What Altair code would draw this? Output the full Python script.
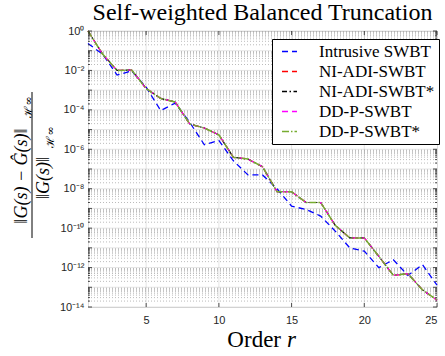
import json
import altair as alt
import pandas as pd

# Model order r
orders = list(range(1, 26))

# Relative H-infinity error for each reduction method
intrusive_swbt = [2.3e-1, 6.8e-2, 5.8e-3, 9.5e-3, 1.4e-3, 9.3e-5, 2.2e-4, 2.3e-5, 1.7e-6, 2.8e-6,
                  2.6e-7, 5.0e-8, 5.0e-8, 1.0e-8, 1.3e-9, 8.9e-10, 4.1e-10, 7.1e-11, 1.0e-11, 6.8e-12,
                  1.0e-12, 2.5e-12, 4.0e-13, 1.4e-12, 1.3e-13]
ni_adi_swbt = [1.0, 6.8e-2, 1.0e-2, 1.05e-2, 1.2e-3, 3.8e-4, 2.5e-4, 1.9e-5, 1.2e-5, 5.4e-6,
               3.9e-7, 3.2e-7, 1.3e-7, 7.1e-9, 7.0e-9, 2.0e-9, 2.0e-9, 1.4e-10, 3.2e-11, 3.2e-11,
               3.7e-12, 4.0e-13, 4.9e-13, 7.4e-14, 2.2e-14]
ni_adi_swbt_star = [1.0, 6.8e-2, 1.0e-2, 1.05e-2, 1.2e-3, 3.8e-4, 2.5e-4, 1.9e-5, 1.2e-5, 5.4e-6,
                    3.9e-7, 3.2e-7, 1.3e-7, 7.1e-9, 7.0e-9, 2.0e-9, 2.0e-9, 1.4e-10, 3.2e-11, 3.2e-11,
                    3.7e-12, 4.0e-13, 4.9e-13, 7.4e-14, 2.3e-14]
dd_p_swbt = [1.0, 6.8e-2, 1.0e-2, 1.05e-2, 1.2e-3, 3.8e-4, 2.5e-4, 1.9e-5, 1.2e-5, 5.4e-6,
             3.9e-7, 3.2e-7, 1.3e-7, 7.1e-9, 7.0e-9, 2.0e-9, 2.0e-9, 1.4e-10, 3.2e-11, 3.2e-11,
             3.7e-12, 4.0e-13, 4.9e-13, 7.4e-14, 2.2e-14]
dd_p_swbt_star = [1.0, 6.8e-2, 1.0e-2, 1.05e-2, 1.2e-3, 3.8e-4, 2.5e-4, 1.9e-5, 1.2e-5, 5.4e-6,
                  3.9e-7, 3.2e-7, 1.3e-7, 7.1e-9, 7.0e-9, 2.0e-9, 2.0e-9, 1.4e-10, 3.2e-11, 3.2e-11,
                  3.7e-12, 4.0e-13, 4.9e-13, 7.4e-14, 2.3e-14]

series_names = ["Intrusive SWBT", "NI-ADI-SWBT", "NI-ADI-SWBT*", "DD-P-SWBT", "DD-P-SWBT*"]
series_values = [intrusive_swbt, ni_adi_swbt, ni_adi_swbt_star, dd_p_swbt, dd_p_swbt_star]
series_colors = ["#0000ff", "#ff0000", "#000000", "#ff00ff", "#77ac30"]
series_dashes = [[6, 4], [6, 4], [5, 2.5, 1.5, 2.5], [6, 4], [7, 2, 1.5, 2]]
series_widths = [1.3, 1.2, 1.2, 1.2, 1.5]

# Axis ticks
x_tick_values = [5, 10, 15, 20, 25]
x_grid_values = [5, 10, 15, 20]
y_label_exponents = [0, -2, -4, -6, -8, -10, -12, -14]
y_decade_exponents = list(range(0, -15, -1))
minor_multipliers = [2, 3, 4, 5, 6, 7, 8, 9]

W, H = 349, 276
SERIF = "Liberation Serif"
SANS = "Liberation Sans"

rows = []
for name, vals in zip(series_names, series_values):
    for r, v in zip(orders, vals):
        rows.append({"order": r, "error": v, "method": name})
df = pd.DataFrame(rows)

decades = [10.0 ** e for e in y_decade_exponents]
minors = [m * 10.0 ** e for e in y_decade_exponents[1:] for m in minor_multipliers]

sup = str.maketrans("0123456789-", "⁰¹²³⁴⁵⁶⁷⁸⁹⁻")
y_labels = ["10" + str(e).translate(sup) for e in y_label_exponents]
y_label_expr = json.dumps(y_labels, ensure_ascii=False) + "[-round(log(datum.value)/LN10)/2]"

xscale = alt.Scale(domain=[1, 25], nice=False, zero=False)
yscale = alt.Scale(type="log", domain=[1e-14, 1], nice=False)

x_axis = alt.Axis(values=x_tick_values, ticks=False, domain=False, grid=False,
                  labelFont=SANS, labelFontSize=11, labelColor="#262626",
                  labelPadding=7, title=None)
y_axis = alt.Axis(values=[10.0 ** e for e in y_label_exponents], labelExpr=y_label_expr,
                  ticks=False, domain=False, grid=False,
                  labelFont=SANS, labelFontSize=11, labelColor="#262626",
                  labelPadding=4, title=None)


def X(field):
    return alt.X(field, scale=xscale, axis=x_axis)


def Y(field):
    return alt.Y(field, scale=yscale, axis=y_axis)


dec_df = pd.DataFrame({"v": decades})
min_df = pd.DataFrame({"v": minors})
xg_df = pd.DataFrame({"x": x_grid_values})
xt_df = pd.DataFrame({"x": x_tick_values})

# log grid: dotted minor lines, faint solid decade lines
minor_grid = alt.Chart(min_df).mark_rule(stroke="#1a1a1a", strokeOpacity=0.5, strokeWidth=0.6,
                                         strokeDash=[1, 2]).encode(y=Y("v:Q"))
major_grid = alt.Chart(dec_df).mark_rule(stroke="#262626", strokeOpacity=0.15, strokeWidth=0.8).encode(
    y=Y("v:Q"))
x_grid = alt.Chart(xg_df).mark_rule(stroke="#262626", strokeOpacity=0.15, strokeWidth=0.8).encode(
    x=X("x:Q"))

color = alt.Color("method:N", scale=alt.Scale(domain=series_names, range=series_colors),
                  legend=alt.Legend(title=None, orient="none", legendX=184, legendY=8,
                                    symbolType="M-0.5,0L2.5,0", symbolSize=100,
                                    symbolStrokeWidth=1.3, symbolFillColor="transparent",
                                    labelFont=SERIF, labelFontSize=17, labelColor="#000000",
                                    labelOffset=26, rowPadding=2, padding=4,
                                    strokeColor="#000000", fillColor="#ffffff"))
dash = alt.StrokeDash("method:N", scale=alt.Scale(domain=series_names, range=series_dashes),
                      legend=None)

line_layers = []
for name, sw in zip(series_names, series_widths):
    line_layers.append(
        alt.Chart(df).transform_filter(alt.datum.method == name).mark_line(strokeWidth=sw).encode(
            x=X("order:Q"), y=Y("error:Q"), color=color, strokeDash=dash,
        )
    )

# inward ticks on all four sides
tick_style = dict(stroke="#262626", strokeWidth=0.8)
x_ticks_bottom = alt.Chart(xt_df).mark_rule(**tick_style).encode(
    x=X("x:Q"), y=alt.value(H), y2=alt.value(H - 4))
x_ticks_top = alt.Chart(xt_df).mark_rule(**tick_style).encode(
    x=X("x:Q"), y=alt.value(0), y2=alt.value(4))
y_ticks_left = alt.Chart(dec_df).mark_rule(**tick_style).encode(
    y=Y("v:Q"), x=alt.value(0), x2=alt.value(4))
y_ticks_right = alt.Chart(dec_df).mark_rule(**tick_style).encode(
    y=Y("v:Q"), x=alt.value(W), x2=alt.value(W - 4))
y_mticks_left = alt.Chart(min_df).mark_rule(**tick_style).encode(
    y=Y("v:Q"), x=alt.value(0), x2=alt.value(2))
y_mticks_right = alt.Chart(min_df).mark_rule(**tick_style).encode(
    y=Y("v:Q"), x=alt.value(W), x2=alt.value(W - 2))

one = alt.Data(values=[{}])


def label(text, x, y, **kw):
    return alt.Chart(one).mark_text(text=text, **kw).encode(x=alt.value(x), y=alt.value(y))


# y-axis title: ratio of H-infinity norms
frac_bar = alt.Chart(one).mark_rule(stroke="#000000", strokeWidth=1).encode(
    x=alt.value(-56), y=alt.value(61), y2=alt.value(207))
rot = dict(angle=270, align="center", baseline="middle", color="#000000")
num_main = label("‖G(s) − Ĝ(s)‖", -66, 145, fontSize=18, font=SERIF, fontStyle="italic", **rot)
num_sub = label("ℋ∞", -59, 76, fontSize=11, font="DejaVu Serif", **rot)
den_main = label("‖G(s)‖", -44, 147, fontSize=18, font=SERIF, fontStyle="italic", **rot)
den_sub = label("ℋ∞", -37, 106, fontSize=11, font="DejaVu Serif", **rot)

# x-axis title
xt_main = label("Order", 193, 309, align="right", baseline="middle",
                font=SERIF, fontSize=23, color="#000000")
xt_var = label("r", 199, 309, align="left", baseline="middle",
               font=SERIF, fontStyle="italic", fontSize=23, color="#000000")

chart = alt.layer(
    minor_grid, major_grid, x_grid,
    *line_layers,
    x_ticks_bottom, x_ticks_top, y_ticks_left, y_ticks_right, y_mticks_left, y_mticks_right,
    frac_bar, num_main, num_sub, den_main, den_sub, xt_main, xt_var,
).properties(
    width=W, height=H,
    title=alt.TitleParams("Self-weighted Balanced Truncation", font=SERIF, fontSize=24,
                          fontWeight="normal", color="#000000", anchor="middle", offset=0),
    autosize=alt.AutoSizeParams(type="none"),
    padding={"left": 88, "top": 31, "right": 8, "bottom": 49},
).configure_view(
    stroke="#262626", strokeWidth=1
).configure(background="#ffffff")

chart.save("out.html", embed_options={"renderer": "svg", "actions": False})
